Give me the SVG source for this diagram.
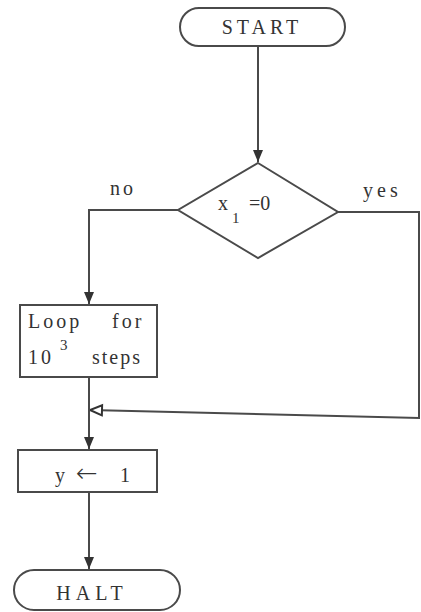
<svg xmlns="http://www.w3.org/2000/svg" width="421" height="612" viewBox="0 0 421 612">
<style>
.shape{fill:none;stroke:#4a4a4a;stroke-width:2}
.ln{fill:none;stroke:#4a4a4a;stroke-width:2}
.t{font-family:"Liberation Serif",serif;font-size:20px;fill:#333}
</style>
<defs>
<marker id="ah" markerUnits="userSpaceOnUse" markerWidth="12" markerHeight="10" refX="12" refY="5" orient="auto">
<path d="M0,0 L12,5 L0,10 z" fill="#333"/>
</marker>
<marker id="oh" markerUnits="userSpaceOnUse" markerWidth="16" markerHeight="14" refX="14" refY="7" orient="auto">
<path d="M2,2 L14,7 L2,12 z" fill="#fff" stroke="#333" stroke-width="2"/>
</marker>
</defs>
<rect width="421" height="612" fill="#fff"/>
<g id="connectors">
<path class="ln" d="M258,46 V162" marker-end="url(#ah)"/>
<path class="ln" d="M178,210 H89 V304" marker-end="url(#ah)"/>
<path class="ln" d="M338,212 H419 V418 L90,410" marker-end="url(#oh)"/>
<path class="ln" d="M89,377 V449" marker-end="url(#ah)"/>
<path class="ln" d="M89,492 V569" marker-end="url(#ah)"/>
<text class="t" x="110" y="195" letter-spacing="3">no</text>
<text class="t" x="363" y="197" letter-spacing="4">yes</text>
</g>
<g id="start">
<rect class="shape" x="180" y="8" width="165" height="38" rx="19"/>
<text class="t" x="262" y="34" text-anchor="middle" letter-spacing="4">START</text>
</g>
<g id="decision">
<polygon class="shape" points="258,163 338,212 258,258 178,210"/>
<text class="t" x="218" y="210">x<tspan x="232" y="223" font-size="15">1</tspan><tspan x="249" y="210">=0</tspan></text>
</g>
<g id="loop">
<rect class="shape" x="20" y="305" width="137" height="72"/>
<text class="t" x="28" y="328" letter-spacing="3">Loop<tspan x="112" letter-spacing="3">for</tspan></text>
<text class="t" x="28" y="364" letter-spacing="3">10<tspan x="60" y="350" font-size="15">3</tspan><tspan x="92" y="364" letter-spacing="2">steps</tspan></text>
</g>
<g id="assign">
<rect class="shape" x="18" y="450" width="139" height="42"/>
<text class="t" x="55" y="482">y<tspan x="76" font-family="DejaVu Sans,sans-serif" font-size="26" font-weight="200">←</tspan><tspan x="120">1</tspan></text>
</g>
<g id="halt">
<rect class="shape" x="14" y="570" width="166" height="40" rx="20"/>
<text class="t" x="92" y="600" text-anchor="middle" letter-spacing="5">HALT</text>
</g>
</svg>
